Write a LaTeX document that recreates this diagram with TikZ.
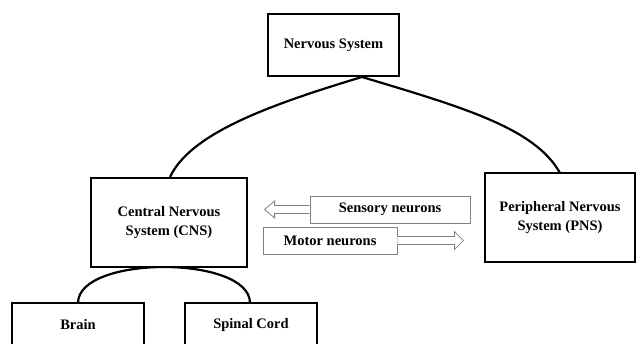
\documentclass[tikz,border=0pt]{standalone}
\usepackage{fontspec}
\setmainfont{Liberation Serif}
\usetikzlibrary{calc}
\tikzset{
  mainbox/.style={draw=black, line width=2.4pt, fill=white, inner sep=0pt,
    align=center, font=\bfseries\fontsize{14.5}{19}\selectfont},
  tagbox/.style={draw=black!50, line width=0.8pt, fill=white, inner sep=0pt,
    font=\bfseries\fontsize{14.5}{19}\selectfont},
  link/.style={draw=black, line width=2.2pt},
  hollow/.style={draw=black!50, line width=0.8pt, fill=white, line join=miter}
}
\begin{document}
\begin{tikzpicture}[x=1pt, y=-1pt]
  \useasboundingbox (0,0) rectangle (636,344);
  \clip (0,0) rectangle (636,344);

  % branch curves (drawn first, boxes cover their ends)
  \coordinate (apex) at (362,77);
  \coordinate (cnsTop) at (170,177);
  \coordinate (pnsTop) at (560,173);
  \coordinate (brainTop) at (78,303);
  \coordinate (spinalTop) at (250,303);
  \draw[link] (apex) .. controls (262,107) and (190,135) .. (cnsTop);
  \draw[link] (apex) .. controls (462,107) and (535,128) .. (pnsTop);
  \draw[link] (brainTop) .. controls (78,255) and (250,255) .. (spinalTop);

  % main boxes
  \node[mainbox, minimum width=131pt, minimum height=62pt] (ns) at (333.5,45) {Nervous System};
  \node[mainbox, minimum width=156pt, minimum height=89pt] (cns) at (169,222.5)
    {Central Nervous\\System (CNS)};
  \node[mainbox, minimum width=150pt, minimum height=89pt] (pns) at (560,217.5)
    {Peripheral Nervous\\System (PNS)};
  \node[mainbox, minimum width=132pt, minimum height=44pt] (brain) at (78,325) {Brain};
  \node[mainbox, minimum width=132pt, minimum height=44pt] (spinal) at (251,325) {Spinal Cord};

  % neuron labels
  \node[tagbox, minimum width=160pt, minimum height=27pt] (sens) at (390,209.5) {Sensory neurons};
  \node[tagbox, minimum width=134pt, minimum height=27pt] (motor) at (330,240.5) {Motor neurons};

  % hollow arrows
  \draw[hollow] ($(sens.west)+(0,-4)$) -- ++(-35,0) -- ++(0,-4.5)
    -- ($(sens.west)+(-45,0)$) -- ($(sens.west)+(-35,8.5)$) -- ++(0,-4.5)
    -- ($(sens.west)+(0,4)$);
  \draw[hollow] ($(motor.east)+(0,-4)$) -- ++(57,0) -- ++(0,-5)
    -- ($(motor.east)+(66,0)$) -- ($(motor.east)+(57,9)$) -- ++(0,-5)
    -- ($(motor.east)+(0,4)$);
\end{tikzpicture}
\end{document}
